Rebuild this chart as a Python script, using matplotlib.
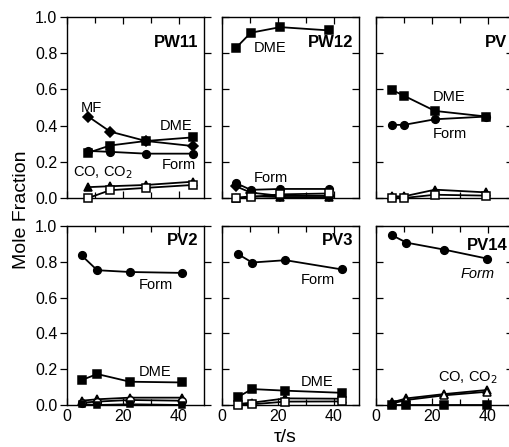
import matplotlib
matplotlib.use("Agg")
import matplotlib.pyplot as plt
from matplotlib.ticker import FixedLocator

plt.rcParams['font.family'] = ['Liberation Sans', 'DejaVu Sans']

# ---------------- data ----------------
# PW11
pw11_t = [7.6, 15.4, 28.2, 45.0]
pw11_mf = [0.45, 0.367, 0.315, 0.287]
pw11_dme = [0.25, 0.29, 0.315, 0.335]
pw11_form = [0.26, 0.255, 0.245, 0.245]
pw11_co = [0.06, 0.065, 0.072, 0.09]
pw11_co2 = [0.0, 0.043, 0.056, 0.072]

# PW12
pw12_t = [4.9, 10.3, 20.8, 38.2]
pw12_dme = [0.828, 0.913, 0.944, 0.926]
pw12_form = [0.083, 0.045, 0.05, 0.05]
pw12_mf = [0.065, 0.03, 0.012, 0.012]
pw12_co = [0.0, 0.01, 0.005, 0.005]
pw12_co2 = [0.0, 0.005, 0.02, 0.025]

# PV
pv_t = [5.6, 10.0, 21.1, 39.5]
pv_dme = [0.598, 0.565, 0.481, 0.45]
pv_form = [0.404, 0.404, 0.435, 0.45]
pv_co = [0.009, 0.009, 0.046, 0.031]
pv_co2 = [0.0, 0.0, 0.018, 0.013]

# PV2
pv2_t = [5.2, 10.8, 22.5, 41.0]
pv2_form = [0.836, 0.753, 0.743, 0.738]
pv2_dme = [0.139, 0.173, 0.13, 0.126]
pv2_co = [0.024, 0.032, 0.041, 0.041]
pv2_co2 = [0.013, 0.019, 0.028, 0.024]
pv2_mf = [0.005, 0.0, 0.004, 0.0]

# PV3
pv3_t = [5.8, 10.8, 22.7, 43.0]
pv3_form = [0.842, 0.796, 0.809, 0.757]
pv3_dme = [0.046, 0.089, 0.08, 0.068]
pv3_co = [0.006, 0.013, 0.037, 0.035]
pv3_co2 = [0.0, 0.004, 0.019, 0.02]

# PV14
pv14_t = [5.8, 10.9, 24.4, 39.7]
pv14_form = [0.948, 0.907, 0.868, 0.818]
pv14_co = [0.015, 0.037, 0.061, 0.084]
pv14_co2 = [0.009, 0.028, 0.054, 0.074]
pv14_dme = [0.0, 0.0, 0.0, 0.0]

panel_names = ["PW11", "PW12", "PV", "PV2", "PV3", "PV14"]
y_ticks = [0.0, 0.2, 0.4, 0.6, 0.8, 1.0]
x_tick_labels = ["0", "20", "40"]

# ---------------- figure ----------------
W, H = 510, 447
fig = plt.figure(figsize=(W / 100, H / 100), dpi=100)

lefts = [67, 222, 376]
pw = 137
rows = [(17, 198), (226, 405)]

def add_ax(r, c):
    top, bot = rows[r]
    return fig.add_axes([lefts[c] / W, 1 - bot / H, pw / W, (bot - top) / H])

def series(ax, t, y, marker, filled=True, ms=5.5, lw=1.3):
    ax.plot(t, y, color='black', lw=lw, marker=marker, ms=ms,
            mfc='black' if filled else 'white', mec='black', mew=1.1,
            clip_on=False, zorder=3)

axes = {}
for i, name in enumerate(panel_names):
    r, c = divmod(i, 3)
    ax = add_ax(r, c)
    axes[name] = ax
    ax.set_xlim(0, 49)
    ax.set_ylim(0, 1.0)
    ax.xaxis.set_major_locator(FixedLocator([0, 20, 40]))
    ax.xaxis.set_minor_locator(FixedLocator([10, 30]))
    ax.yaxis.set_major_locator(FixedLocator(y_ticks))
    ax.tick_params(axis='both', which='both', direction='in', top=True, right=True,
                   length=5, width=0.9, labelsize=11.5)
    ax.tick_params(axis='x', which='minor', length=4)
    if c == 0:
        ax.set_yticklabels(["%.1f" % v for v in y_ticks])
        ax.tick_params(axis='y', which='major', direction='out', pad=2)
    else:
        ax.set_yticklabels([])
    if r == 1:
        ax.set_xticklabels(x_tick_labels)
        ax.tick_params(axis='x', which='major', pad=3)
    else:
        ax.set_xticklabels([])
    for sp in ax.spines.values():
        sp.set_linewidth(1.0)
    ly = 0.86 if r == 0 else (0.89 if name == "PV14" else 0.92)
    ax.text(47, ly, name, ha='right', va='center', fontsize=12, fontweight='bold')

# PW11
ax = axes["PW11"]
series(ax, pw11_t, pw11_mf, 'D', ms=5)
series(ax, pw11_t, pw11_dme, 's')
series(ax, pw11_t, pw11_form, 'o')
series(ax, pw11_t, pw11_co, '^')
series(ax, pw11_t, pw11_co2, 's', filled=False)
ax.text(5, 0.50, "MF", fontsize=10.5, ha='left', va='center')
ax.text(33, 0.40, "DME", fontsize=10.5, ha='left', va='center')
ax.text(34, 0.185, "Form", fontsize=10.5, ha='left', va='center')
ax.text(2, 0.14, "CO, CO$_2$", fontsize=10.5, ha='left', va='center')

# PW12
ax = axes["PW12"]
series(ax, pw12_t, pw12_dme, 's')
series(ax, pw12_t, pw12_form, 'o')
series(ax, pw12_t, pw12_mf, 'D', ms=5)
series(ax, pw12_t, pw12_co, '^')
series(ax, pw12_t, pw12_co2, 's', filled=False)
ax.text(11.4, 0.83, "DME", fontsize=10.5, ha='left', va='center')
ax.text(11.4, 0.11, "Form", fontsize=10.5, ha='left', va='center')

# PV
ax = axes["PV"]
series(ax, pv_t, pv_dme, 's')
series(ax, pv_t, pv_form, 'o')
series(ax, pv_t, pv_co, '^')
series(ax, pv_t, pv_co2, 's', filled=False)
ax.text(20.4, 0.556, "DME", fontsize=10.5, ha='left', va='center')
ax.text(20.4, 0.352, "Form", fontsize=10.5, ha='left', va='center')

# PV2
ax = axes["PV2"]
series(ax, pv2_t, pv2_form, 'o')
series(ax, pv2_t, pv2_dme, 's')
series(ax, pv2_t, pv2_co, '^')
series(ax, pv2_t, pv2_co2, 'o', filled=False)
series(ax, pv2_t, pv2_mf, 's', ms=4.5)
ax.text(25.8, 0.67, "Form", fontsize=10.5, ha='left', va='center')
ax.text(25.8, 0.186, "DME", fontsize=10.5, ha='left', va='center')

# PV3
ax = axes["PV3"]
series(ax, pv3_t, pv3_form, 'o')
series(ax, pv3_t, pv3_dme, 's')
series(ax, pv3_t, pv3_co, '^')
series(ax, pv3_t, pv3_co2, 's', filled=False)
ax.text(28, 0.70, "Form", fontsize=10.5, ha='left', va='center')
ax.text(28, 0.13, "DME", fontsize=10.5, ha='left', va='center')

# PV14
ax = axes["PV14"]
series(ax, pv14_t, pv14_form, 'o')
series(ax, pv14_t, pv14_co, '^')
series(ax, pv14_t, pv14_co2, '^', filled=False)
series(ax, pv14_t, pv14_dme, 's')
ax.text(30.4, 0.73, "Form", fontsize=10.5, ha='left', va='center', style='italic')
ax.text(22, 0.15, "CO, CO$_2$", fontsize=10.5, ha='left', va='center')

fig.text(22 / W, 1 - 210 / H, "Mole Fraction", rotation=90, ha='center', va='center', fontsize=14)
fig.text(285 / W, 1 - 437 / H, "τ/s", ha='center', va='center', fontsize=14)

fig.savefig("out.png", dpi=100)
